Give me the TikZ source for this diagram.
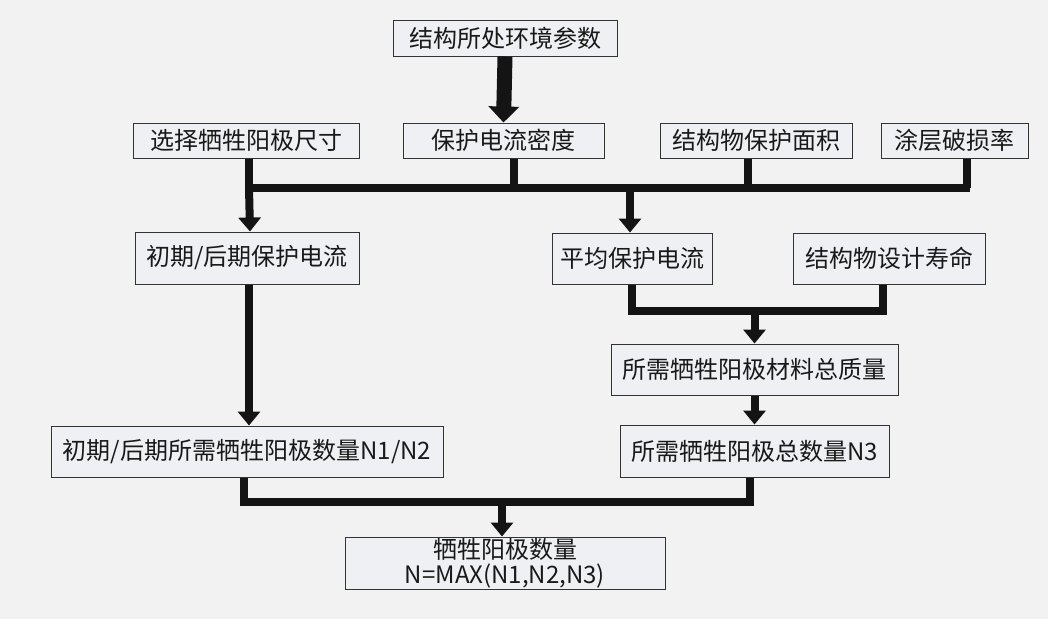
\documentclass[tikz,border=0pt]{standalone}
\usepackage{fontspec}
\setmainfont{Noto Sans CJK SC}
\usetikzlibrary{arrows.meta}
\definecolor{bgc}{HTML}{F2F2F2}
\definecolor{boxc}{HTML}{EEF0F4}
\definecolor{linec}{HTML}{141414}
\tikzset{
  box/.style={draw=black!80, line width=1pt, fill=boxc, inner sep=0pt, font=\fontsize{24}{26}\selectfont, text=black!90, align=center},
  conn/.style={draw=linec, line width=8pt, line join=miter},
  arr/.style={conn, -{Triangle[width=22pt,length=14pt]}},
  bigarr/.style={draw=linec, line width=15pt, -{Triangle[width=30pt,length=16pt]}}
}
\begin{document}
\begin{tikzpicture}[x=1pt,y=-1pt]
\fill[bgc] (0,0) rectangle (1048,619);
\useasboundingbox (0,0) rectangle (1048,619);
% boxes
\node[box, minimum width=224pt, minimum height=36pt] (env) at (505,38) {结构所处环境参数};
\node[box, minimum width=226pt, minimum height=35pt] (sel) at (246,140.5) {选择牺牲阳极尺寸};
\node[box, minimum width=201pt, minimum height=35pt] (dens) at (503.5,140.5) {保护电流密度};
\node[box, minimum width=192pt, minimum height=35pt] (area) at (756,140.5) {结构物保护面积};
\node[box, minimum width=147pt, minimum height=35pt] (coat) at (954.5,140.5) {涂层破损率};
\node[box, minimum width=224pt, minimum height=52pt] (early) at (247,258) {初期/后期保护电流};
\node[box, minimum width=160pt, minimum height=51pt] (avg) at (632,258.5) {平均保护电流};
\node[box, minimum width=192pt, minimum height=51pt] (life) at (889,258.5) {结构物设计寿命};
\node[box, minimum width=287pt, minimum height=51pt] (mass) at (754.5,369.5) {所需牺牲阳极材料总质量};
\node[box, minimum width=269pt, minimum height=52pt] (n3) at (754.5,451) {所需牺牲阳极总数量N3};
\node[box, minimum width=392pt, minimum height=51pt] (n12) at (247,451.5) {初期/后期所需牺牲阳极数量N1/N2};
\node[box, minimum width=320pt, minimum height=52pt, font=\fontsize{24}{25}\selectfont] (final) at (505,563) {牺牲阳极数量\\N=MAX(N1,N2,N3)};
% coordinates
\coordinate (bus) at (0,188);
\coordinate (bus2) at (0,311);
\coordinate (bus3) at (0,502);
% top arrow
\draw[bigarr] (env.south) -- (dens.north);
% bus row 1
\draw[conn] ([xshift=3pt]sel.south) -- ([xshift=3pt]sel.south |- bus);
\draw[conn] ([xshift=10pt]dens.south) -- ([xshift=10pt]dens.south |- bus);
\draw[conn] ([xshift=-8pt]area.south) -- ([xshift=-8pt]area.south |- bus);
\draw[conn] ([xshift=12pt]coat.south) -- ([xshift=12pt]coat.south |- bus);
\draw[conn] ([xshift=245pt]bus) -- ([xshift=970pt]bus);
\draw[arr] ([xshift=3pt]sel.south |- bus) -- ([xshift=3pt]early.north);
\draw[arr] ([xshift=-2pt]avg.north |- bus) -- ([xshift=-2pt]avg.north);
% bus row 2
\draw[conn] (avg.south) -- (avg.south |- bus2) -- ([xshift=-6pt]life.south |- bus2) -- ([xshift=-6pt]life.south);
\draw[arr] (mass.north |- bus2) -- (mass.north);
\draw[arr] (mass.south) -- (n3.north);
% left column
\draw[arr] ([xshift=2pt]early.south) -- ([xshift=2pt]n12.north);
% bus row 3
\draw[conn] ([xshift=-3pt]n12.south) -- ([xshift=-3pt]n12.south |- bus3) -- ([xshift=-5pt]n3.south |- bus3) -- ([xshift=-5pt]n3.south);
\draw[arr] ([xshift=-3pt]final.north |- bus3) -- ([xshift=-3pt]final.north);
\end{tikzpicture}
\end{document}
